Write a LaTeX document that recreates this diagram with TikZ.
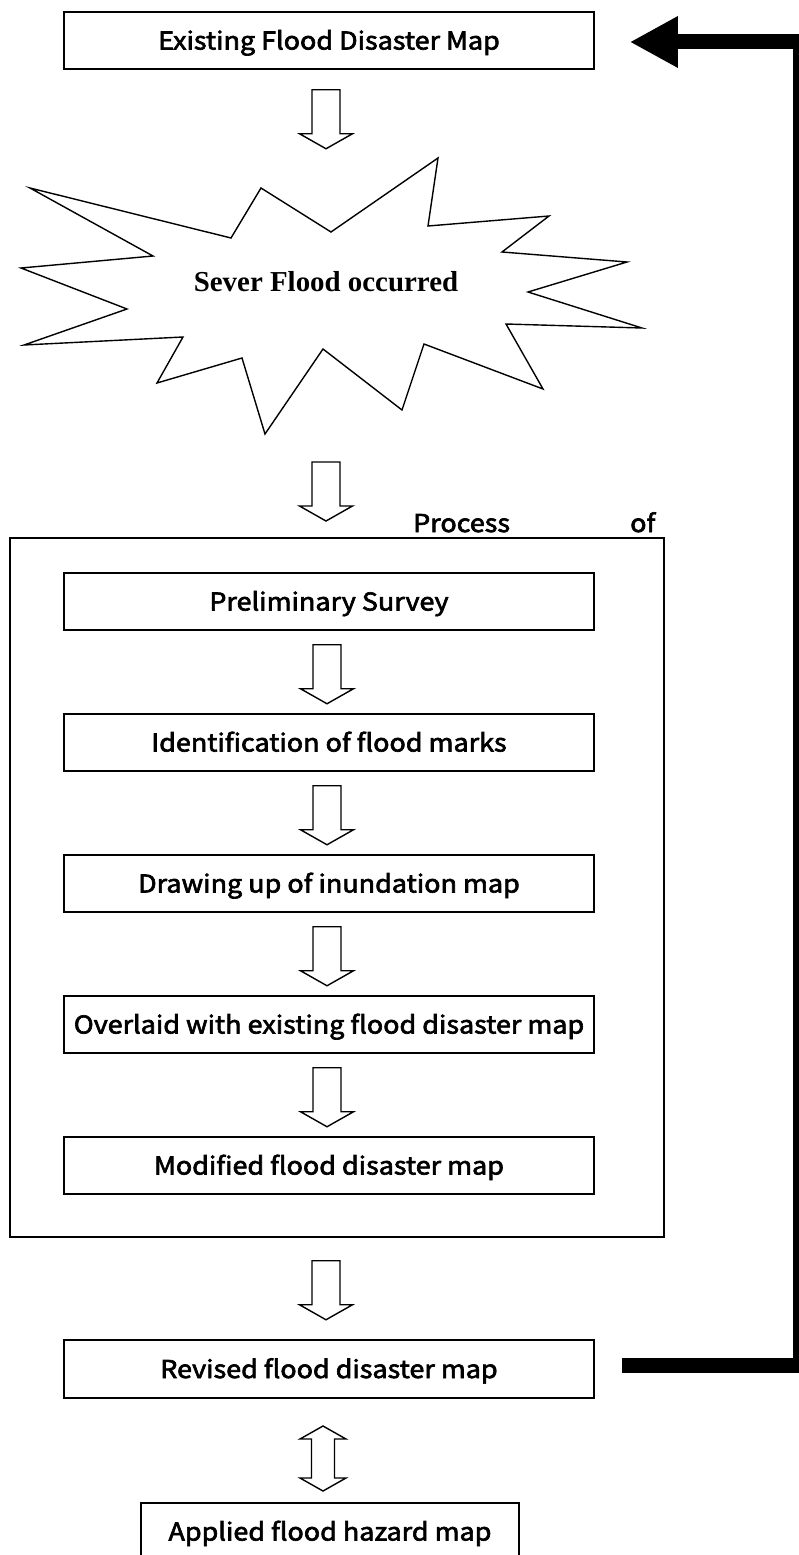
\documentclass[tikz,border=0pt]{standalone}
\usepackage{fontspec}
\newfontfamily\gothic[FakeStretch=1.1,FakeBold=2.6]{Noto Sans CJK JP}
\newfontfamily\timesfam{Liberation Serif}
\usetikzlibrary{arrows.meta,calc}
\newcommand\blkdown[1]{\draw[blk] #1 ++(-14,0) -- ++(28,0) -- ++(0,44) -- ++(12.5,0) -- ++(-26.5,15) -- ++(-26.5,-15) -- ++(12.5,0) -- cycle;}
\begin{document}
\begin{tikzpicture}[x=1pt,y=-1pt,
  txtfont/.style={font=\gothic\fontsize{24.5}{28}\selectfont},
  boxtxt/.style={txtfont, text height=18pt, text depth=0pt},
  box/.style={draw, line width=1.5pt, minimum width=530pt, minimum height=57pt, inner sep=0pt, boxtxt},
  blk/.style={draw, line width=1.4pt, fill=white, line join=miter},
  fb/.style={line width=15pt, -{Triangle[length=48pt,width=48pt]}, line join=miter}]
\useasboundingbox (0,0) rectangle (798,1555);
\fill[white] (0,0) rectangle (798,1555);

% top box
\node[box] (existing) at (329,40.5) {Existing Flood Disaster Map};
\blkdown{($(existing.south)+(-3,20)$)}

% starburst
\draw[line width=1.4pt, line join=miter]
  (30,188) -- (231,238) -- (261,188) -- (331,232) -- (438,158) -- (428,226)
  -- (549,216) -- (502,252) -- (627,262) -- (528,292) -- (642,328) -- (506,324)
  -- (543,389) -- (424,344) -- (402,410) -- (323,349) -- (265,434) -- (242,358)
  -- (157,383) -- (183,337) -- (24,345) -- (127,309) -- (21,268) -- (153,256) -- cycle;
\node[anchor=base, font=\timesfam\bfseries\fontsize{28.9}{32}\selectfont, inner sep=0pt] (flood) at (326,291) {Sever Flood occurred};

\blkdown{(326,462)}

% process box
\node[draw, line width=1.5pt, minimum width=654pt, minimum height=699pt, inner sep=0pt] (process) at (337,887.5) {};
\node[anchor=base west, txtfont, inner sep=0pt] (ptitle) at (413,532) {Process};
\node[anchor=base west, txtfont, inner sep=0pt] (pof) at (630,532) {of};

\node[box] (prelim) at (329,601.5) {Preliminary Survey};
\node[box] (ident) at (329,742.5) {Identification of flood marks};
\node[box] (drawing) at (329,883.5) {Drawing up of inundation map};
\node[box] (overlaid) at (329,1024.5) {Overlaid with existing flood disaster map};
\node[box] (modified) at (329,1165.5) {Modified flood disaster map};

\blkdown{($(prelim.south)+(-2,14)$)}
\blkdown{($(ident.south)+(-2,14)$)}
\blkdown{($(drawing.south)+(-2,14)$)}
\blkdown{($(overlaid.south)+(-2,14)$)}

\blkdown{($(process.south)+(-11,23)$)}

\node[box, minimum height=58pt] (revised) at (329,1369) {Revised flood disaster map};

% double arrow
\draw[blk] (323,1426) -- (346,1439) -- (334.5,1439) -- (334.5,1478) -- (346,1478) -- (323,1491)
  -- (300,1478) -- (311.5,1478) -- (311.5,1439) -- (300,1439) -- cycle;

\node[box, minimum width=378pt, minimum height=57pt] (applied) at (330,1531.5) {Applied flood hazard map};

% feedback arrow
\coordinate (fb1) at ($(revised.east)+(27,-4)$);
\coordinate (fb2) at (800,1365);
\coordinate (fb3) at (800,42);
\coordinate (fbtip) at ($(existing.east)+(35,1.5)$);
\draw[fb] (fb1) -- (fb2) -- (fb3) -- (fbtip);
\end{tikzpicture}
\end{document}
